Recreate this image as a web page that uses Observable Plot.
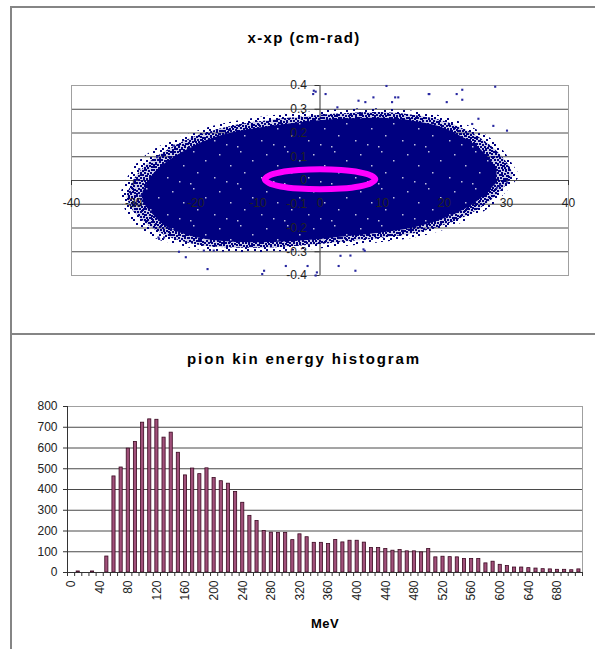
<!DOCTYPE html>
<html><head><meta charset="utf-8">
<script src="https://cdn.jsdelivr.net/npm/d3@7"></script>
<script src="https://cdn.jsdelivr.net/npm/@observablehq/plot@0.6"></script>
<style>
body{margin:0;background:#fff;}
#root{position:relative;width:595px;height:649px;overflow:hidden;font-family:"Liberation Sans",Arial,sans-serif;background:#fff;}
.ln{position:absolute;background:#858585;}
.title{position:absolute;font-weight:bold;white-space:nowrap;transform:translate(-50%,-50%);color:#000;}
.chart{position:absolute;left:0;}
</style></head><body>
<div id="root">
  <div class="title" style="left:304px;top:37px;font-size:15px;letter-spacing:1.4px">x-xp (cm-rad)</div>
  <div class="title" style="left:304px;top:358px;font-size:15px;letter-spacing:1.85px">pion kin energy histogram</div>
  <div class="title" style="left:325px;top:623px;font-size:13px;letter-spacing:0.5px">MeV</div>
  <div id="top" class="chart" style="top:0px"></div>
  <div id="bot" class="chart" style="top:334px"></div>
  <div class="ln" style="left:10px;top:6px;width:585px;height:2px"></div>
  <div class="ln" style="left:10px;top:6px;width:2px;height:643px"></div>
  <div class="ln" style="left:10px;top:333px;width:585px;height:2px"></div>
</div>
<script>
// ---------- top chart: x-xp scatter ----------
const xTicksTop = [-40, -30, -20, -10, 0, 10, 20, 30, 40];
const yTicksTop = [-0.4, -0.3, -0.2, -0.1, 0, 0.1, 0.2, 0.3, 0.4];

// outermost sparse fringe of the particle cloud (x in cm, y in rad)
const fringeX   = [-32, -31, -29.5, -28, -26, -23, -20, -17, -13, -9, -5, -1, 3, 7, 11, 15, 18, 21, 24, 26.5, 28.5, 30, 31, 32];
const fringeTop = [-0.05, 0.01, 0.07, 0.105, 0.14, 0.175, 0.205, 0.23, 0.252, 0.268, 0.28, 0.29, 0.298, 0.302, 0.3, 0.292, 0.28, 0.26, 0.23, 0.195, 0.155, 0.11, 0.07, 0.03];
const fringeBot = [-0.08, -0.14, -0.19, -0.22, -0.25, -0.27, -0.29, -0.3, -0.303, -0.303, -0.298, -0.29, -0.28, -0.27, -0.258, -0.243, -0.225, -0.2, -0.165, -0.13, -0.09, -0.05, -0.02, 0.01];
// denser edge band
const cloudX        = [-31, -30, -28.5, -27, -25, -23, -20, -17, -13, -9, -5, -1, 3, 7, 11, 15, 18, 21, 24, 26, 28, 29.5, 30.5, 31];
const cloudOuterTop = [-0.06, 0.0, 0.05, 0.085, 0.12, 0.15, 0.185, 0.21, 0.235, 0.25, 0.262, 0.272, 0.28, 0.285, 0.285, 0.275, 0.262, 0.24, 0.205, 0.175, 0.135, 0.095, 0.06, 0.03];
const cloudOuterBot = [-0.08, -0.13, -0.17, -0.2, -0.23, -0.25, -0.27, -0.28, -0.285, -0.285, -0.28, -0.272, -0.262, -0.252, -0.24, -0.225, -0.205, -0.18, -0.145, -0.115, -0.075, -0.035, -0.005, 0.015];
// solid dense core
const coreX   = [-28.5, -27, -25, -22, -19, -15, -10, -5, 0, 5, 10, 15, 19, 22, 25, 27, 28.5];
const coreTop = [-0.05, 0.02, 0.07, 0.12, 0.16, 0.195, 0.22, 0.238, 0.252, 0.26, 0.262, 0.25, 0.228, 0.195, 0.15, 0.1, 0.05];
const coreBot = [-0.09, -0.14, -0.19, -0.225, -0.245, -0.258, -0.262, -0.258, -0.248, -0.235, -0.22, -0.2, -0.17, -0.14, -0.095, -0.05, -0.01];

// isolated particles outside the cloud
const strayX = [-0.7, -1.1, 0.9, 10.7, 28.2, 22.9, 22, 22.9, 17.5, 20.4, 12.1, 12.6, 11.6, 8.6, 6.2, 7.3, 2.8, 25.5, 27.9, 30.1, 24.5, 29, 28.5, 30.1, 7, 3.3, 3, 5.7, -0.7, -1, -23.5, -26.2, -25.9, -22.7, -21.6, -18.1, -18.7, -17.1, -9, -5.5, -2, -0.5, -29.9, -28.9, -29.1, 7.2, 4.9, -9.3, -26, -25.1, 17.6];
const strayY = [0.374, 0.364, 0.364, 0.398, 0.395, 0.382, 0.364, 0.34, 0.364, 0.33, 0.35, 0.35, 0.33, 0.35, 0.336, 0.33, 0.308, 0.26, 0.23, 0.21, 0.238, -0.02, -0.03, -0.008, -0.29, -0.317, -0.36, -0.38, -0.4, 0.378, 0.147, 0.098, -0.246, -0.3, -0.323, -0.373, -0.295, -0.295, -0.38, -0.36, -0.36, -0.387, -0.092, -0.064, 0.048, -0.296, -0.316, -0.394, -0.24, -0.24, 0.364];

// acceptance ellipse (magenta), points read around its outline
const ellX = [8.9, 8.2, 6.3, 3.4, 0, -3.4, -6.3, -8.2, -8.9, -8.2, -6.3, -3.4, 0, 3.4, 6.3, 8.2];
const ellY = [0.005, 0.021, 0.035, 0.044, 0.047, 0.044, 0.035, 0.021, 0.005, -0.011, -0.025, -0.034, -0.037, -0.034, -0.025, -0.011];

// ---------- bottom chart: pion kinetic energy histogram ----------
const energyBins = [0,10,20,30,40,50,60,70,80,90,100,110,120,130,140,150,160,170,180,190,200,210,220,230,240,250,260,270,280,290,300,310,320,330,340,350,360,370,380,390,400,410,420,430,440,450,460,470,480,490,500,510,520,530,540,550,560,570,580,590,600,610,620,630,640,650,660,670,680,690,700,710];
const counts = [0,5,0,5,0,77,463,506,597,629,722,738,736,650,674,577,468,501,474,502,455,440,428,388,336,273,248,200,192,191,191,156,184,170,143,143,137,157,145,153,153,144,118,118,113,105,108,102,102,97,113,73,76,74,73,65,65,65,44,52,37,31,24,24,21,19,16,15,13,13,11,15];
const xLabelsHist = [0,40,80,120,160,200,240,280,320,360,400,440,480,520,560,600,640,680];
const yTicksHist = [0,100,200,300,400,500,600,700,800];

const FONT = '"Liberation Sans", Arial, sans-serif';
const grid = "#4a4a4a";
const frame = "#a0a0a0";
const navy = "#000080";

const fringe = fringeX.map((x, i) => ({x, top: fringeTop[i], bot: fringeBot[i]}));
const cloudOuter = cloudX.map((x, i) => ({x, top: cloudOuterTop[i], bot: cloudOuterBot[i]}));
const cloudCore = coreX.map((x, i) => ({x, top: coreTop[i], bot: coreBot[i]}));
const strays = strayX.map((x, i) => ({x, y: strayY[i]}));
const ellipse = ellX.map((x, i) => ({x, y: ellY[i]}));

// speckle textures for the ragged edge of the cloud (style only)
function speckleDefs() {
  const defs = d3.create("svg:defs");
  const add = (id, w, h, size, color, opacity, dots) => {
    const p = defs.append("pattern").attr("id", id).attr("patternUnits", "userSpaceOnUse").attr("width", w).attr("height", h);
    for (const [a, b] of dots) p.append("rect").attr("x", a).attr("y", b).attr("width", size).attr("height", size).attr("fill", color).attr("fill-opacity", opacity);
  };
  add("speckDense", 17, 13, 2, navy, 1, [[0,0],[3,0],[6,1],[9,0],[12,1],[15,0],[1,3],[4,3],[8,3],[11,4],[14,3],[2,6],[6,5],[9,6],[13,6],[15,7],[0,8],[4,8],[7,8],[10,9],[13,9],[2,10],[5,11],[8,11],[11,11],[15,10]]);
  add("speckSparse", 19, 15, 2, navy, 1, [[1,1],[8,0],[14,2],[4,5],[11,4],[17,7],[0,9],[7,9],[13,10],[3,13],[10,13],[16,12]]);
  add("fleck", 47, 37, 1.5, "#ffffff", 0.75, [[5,3],[31,6],[17,12],[42,17],[9,24],[26,29],[38,33],[2,35]]);
  return defs.node();
}

const topPlot = Plot.plot({
  width: 595, height: 330,
  marginLeft: 71, marginRight: 27, marginTop: 85, marginBottom: 55,
  x: {domain: [-40, 40], axis: null},
  y: {domain: [-0.4, 0.4], axis: null},
  style: {fontFamily: FONT, fontSize: "12px", background: "transparent", color: "#000"},
  marks: [
    speckleDefs,
    Plot.ruleY(yTicksTop, {stroke: grid}),
    Plot.frame({stroke: frame}),
    Plot.ruleX([0], {stroke: "#333"}),
    Plot.ruleY(yTicksTop, {x1: 0, x2: 0, insetLeft: -5, stroke: "#333"}),
    Plot.ruleX(xTicksTop, {y1: 0, y2: 0, insetBottom: -5, stroke: "#333"}),
    Plot.areaY(fringe, {x: "x", y1: "bot", y2: "top", fill: "url(#speckSparse)", curve: "catmull-rom"}),
    Plot.areaY(cloudOuter, {x: "x", y1: "bot", y2: "top", fill: navy, fillOpacity: 0.2, curve: "catmull-rom"}),
    Plot.areaY(cloudOuter, {x: "x", y1: "bot", y2: "top", fill: "url(#speckDense)", curve: "catmull-rom"}),
    Plot.areaY(cloudCore, {x: "x", y1: "bot", y2: "top", fill: navy, curve: "catmull-rom"}),
    Plot.areaY(cloudCore, {x: "x", y1: "bot", y2: "top", fill: "url(#fleck)", curve: "catmull-rom"}),
    Plot.dot(strays, {x: "x", y: "y", r: 1.2, symbol: "square", fill: "#2828a0"}),
    Plot.line(ellipse, {x: "x", y: "y", stroke: "#ff00ff", strokeWidth: 6, curve: "catmull-rom-closed"}),
    Plot.text(yTicksTop, {x: 0, y: d => d, text: d => String(d), textAnchor: "end", dx: -13, fill: "#222"}),
    Plot.text(xTicksTop, {x: d => d, y: 0, text: d => String(d), dy: 23, fill: "#222"})
  ]
});
document.getElementById("top").append(topPlot);

const hist = energyBins.map((e, i) => ({e, n: counts[i]}));
const boundaries = energyBins.concat([energyBins[energyBins.length - 1] + 10]);

const botPlot = Plot.plot({
  width: 595, height: 315,
  marginLeft: 67, marginRight: 13, marginTop: 72, marginBottom: 77,
  x: {domain: [0, 720], axis: null},
  y: {domain: [0, 800], axis: null},
  style: {fontFamily: FONT, fontSize: "12px", background: "transparent", color: "#000"},
  marks: [
    Plot.ruleY(yTicksHist, {stroke: grid}),
    Plot.frame({stroke: frame}),
    Plot.rectY(hist, {x1: "e", x2: d => d.e + 10, y: "n", fill: "#a0507a", stroke: "#3a0820", strokeWidth: 0.8, insetLeft: 2.0, insetRight: 2.0}),
    Plot.ruleX([0], {stroke: "#333"}),
    Plot.ruleY([0], {stroke: "#333"}),
    Plot.ruleY(yTicksHist, {x1: 0, x2: 0, insetLeft: -4, stroke: "#333"}),
    Plot.ruleX(boundaries, {y1: 0, y2: 0, insetBottom: -4, stroke: "#333"}),
    Plot.text(yTicksHist, {x: 0, y: d => d, text: d => String(d), textAnchor: "end", dx: -10, fill: "#222"}),
    Plot.text(xLabelsHist, {x: d => d + 5, y: 0, text: d => String(d), rotate: -90, textAnchor: "end", dy: 8, fill: "#222"})
  ]
});
document.getElementById("bot").append(botPlot);
</script>
</body></html>
